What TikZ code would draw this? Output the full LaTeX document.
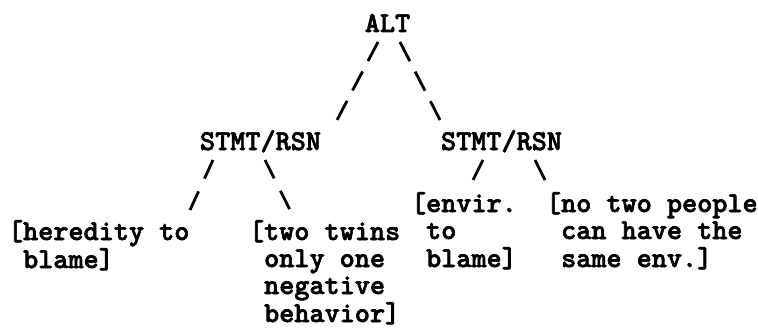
\documentclass[tikz,border=0pt]{standalone}
\usepackage{fontspec}
\newfontfamily\tw{lmmonolt10-bold}[Extension=.otf, FakeBold=2.2]
\newcommand\leaflines[1]{\begin{tabular}[t]{@{}l@{}}#1\end{tabular}}
\tikzset{
  lbl/.style={inner sep=0pt, outer sep=0pt, font=\tw\fontsize{28.8}{27}\selectfont},
  leaf/.style={lbl, anchor=base west},
  conn/.style={line width=2.8pt, draw=black},
  conn3/.style={conn, dash pattern=on 21.5pt off 11.75pt},
  conn2/.style={conn, dash pattern=on 20.5pt off 14pt},
}
\begin{document}
\begin{tikzpicture}[x=1pt,y=-1pt]
\useasboundingbox[fill=white] (0,0) rectangle (758,329);
\node[lbl, anchor=base] (alt) at (387.5,32) {ALT};
\node[lbl, anchor=base] (s1) at (260.5,150) {STMT/RSN};
\node[lbl, anchor=base] (s2) at (501.5,150) {STMT/RSN};
\node[leaf] (l1) at (8,240) {\leaflines{[heredity to\\\ blame]}};
\node[leaf] (l2) at (249,240) {\leaflines{[two twins\\\ only one\\\ negative\\\ behavior]}};
\node[leaf] (l3) at (411,212) {\leaflines{[envir.\\\ to\\\ blame]}};
\node[leaf] (l4) at (546,212) {\leaflines{[no two people\\\ can have the\\\ same env.]}};
\draw[conn3] ([xshift=-9.5pt,yshift=-10pt]alt.base) -- ([xshift=76.5pt,yshift=30pt]s1.base);
\draw[conn3] ([xshift=12.5pt,yshift=-10pt]alt.base) -- ([xshift=-61.5pt,yshift=30pt]s2.base);
\draw[conn2] ([xshift=-47.5pt,yshift=-10pt]s1.base) -- ([xshift=182pt,yshift=30pt]l1.base west);
\draw[conn2] ([xshift=4.5pt,yshift=-10pt]s1.base) -- ([xshift=41pt,yshift=30pt]l2.base west);
\draw[conn] ([xshift=-18.5pt,yshift=-10pt]s2.base) -- ([xshift=62pt,yshift=32pt]l3.base west);
\draw[conn] ([xshift=33.5pt,yshift=-10pt]s2.base) -- ([xshift=-1pt,yshift=32pt]l4.base west);
\end{tikzpicture}
\end{document}
